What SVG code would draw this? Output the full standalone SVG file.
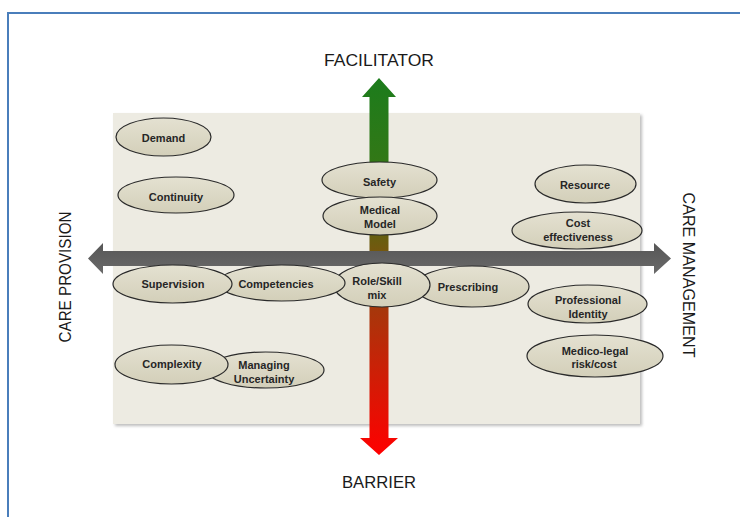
<svg xmlns="http://www.w3.org/2000/svg" width="740" height="517" viewBox="0 0 740 517">
  <defs>
    <linearGradient id="vgrad" gradientUnits="userSpaceOnUse" x1="0" y1="78" x2="0" y2="455">
      <stop offset="0" stop-color="#1c7c1c"/>
      <stop offset="0.3" stop-color="#3a7614"/>
      <stop offset="0.48" stop-color="#7c530e"/>
      <stop offset="0.62" stop-color="#a8360b"/>
      <stop offset="1" stop-color="#ff0000"/>
    </linearGradient>
    <linearGradient id="nodefill" x1="0" y1="0" x2="0" y2="1">
      <stop offset="0" stop-color="#e4e1d1"/>
      <stop offset="1" stop-color="#d3cfb9"/>
    </linearGradient>
    <linearGradient id="hgrad" x1="0" y1="0" x2="0" y2="1">
      <stop offset="0" stop-color="#565656"/>
      <stop offset="1" stop-color="#6a6a6a"/>
    </linearGradient>
    <filter id="soft" x="-10%" y="-10%" width="120%" height="130%">
      <feGaussianBlur stdDeviation="1.5"/>
    </filter>
  </defs>
  <style>
    .node ellipse { fill: url(#nodefill); stroke: #2a2a2a; stroke-width: 1.2; }
    .node text { font-family: "Liberation Sans", Arial, sans-serif; font-weight: bold; font-size: 11px; fill: #262626; text-anchor: middle; }
    .axis { font-family: "Liberation Sans", Arial, sans-serif; font-size: 16px; fill: #1a1a1a; text-anchor: middle; }
  </style>

  <!-- page frame -->
  <rect x="0" y="0" width="740" height="517" fill="#ffffff"/>
  <rect x="8" y="13" width="760" height="540" fill="none" stroke="#4a7ebb" stroke-width="2"/>

  <!-- quadrant panel -->
  <rect x="115" y="115" width="527" height="311" fill="#bdbdbd" filter="url(#soft)"/>
  <rect x="113" y="113" width="527" height="311" fill="#edebe2"/>

  <!-- axes -->
  <g id="connectors">
    <polygon id="axis-vertical" fill="url(#vgrad)"
      points="379,78 396,97 388.5,97 388.5,438 398,438 379,455 360,438 369.5,438 369.5,97 362,97"/>
    <polygon id="axis-horizontal" fill="url(#hgrad)"
      points="88,258.5 103,243 103,251 654,251 654,243 671,258.5 654,274 654,266 103,266 103,274"/>
  </g>

  <!-- axis labels -->
  <text class="axis" x="379" y="66" textLength="110" lengthAdjust="spacingAndGlyphs">FACILITATOR</text>
  <text class="axis" x="379" y="488" textLength="74" lengthAdjust="spacingAndGlyphs">BARRIER</text>
  <text class="axis" transform="translate(71,277) rotate(-90)" x="0" y="0" textLength="131" lengthAdjust="spacingAndGlyphs">CARE PROVISION</text>
  <text class="axis" transform="translate(683,275) rotate(90)" x="0" y="0" textLength="165" lengthAdjust="spacingAndGlyphs">CARE MANAGEMENT</text>

  <!-- factor nodes -->
  <g id="node-demand" class="node">
    <ellipse cx="163.5" cy="137" rx="47.5" ry="19"/>
    <text x="163.5" y="142">Demand</text>
  </g>
  <g id="node-continuity" class="node">
    <ellipse cx="176" cy="195" rx="58" ry="18"/>
    <text x="176" y="201">Continuity</text>
  </g>
  <g id="node-safety" class="node">
    <ellipse cx="379.5" cy="180" rx="57.5" ry="18"/>
    <text x="379.5" y="186">Safety</text>
  </g>
  <g id="node-medical-model" class="node">
    <ellipse cx="380" cy="216" rx="57" ry="19"/>
    <text x="380" y="214">Medical</text>
    <text x="380" y="228">Model</text>
  </g>
  <g id="node-resource" class="node">
    <ellipse cx="585.5" cy="184" rx="50.5" ry="19"/>
    <text x="585" y="189">Resource</text>
  </g>
  <g id="node-cost-effectiveness" class="node">
    <ellipse cx="577" cy="230.5" rx="65" ry="18.5"/>
    <text x="578" y="227">Cost</text>
    <text x="578" y="241">effectiveness</text>
  </g>
  <g id="node-prescribing" class="node">
    <ellipse cx="472" cy="286.5" rx="57" ry="20.5"/>
    <text x="468" y="291">Prescribing</text>
  </g>
  <g id="node-role-skill-mix" class="node">
    <ellipse cx="382" cy="285" rx="48" ry="22"/>
    <text x="377" y="285">Role/Skill</text>
    <text x="377" y="299">mix</text>
  </g>
  <g id="node-competencies" class="node">
    <ellipse cx="281.5" cy="283" rx="63.5" ry="18"/>
    <text x="276" y="288">Competencies</text>
  </g>
  <g id="node-supervision" class="node">
    <ellipse cx="172.5" cy="284" rx="59.5" ry="19"/>
    <text x="173" y="288">Supervision</text>
  </g>
  <g id="node-professional-identity" class="node">
    <ellipse cx="587.5" cy="304" rx="59.5" ry="19"/>
    <text x="588" y="304">Professional</text>
    <text x="588" y="318">Identity</text>
  </g>
  <g id="node-managing-uncertainty" class="node">
    <ellipse cx="265.5" cy="370" rx="58.5" ry="18"/>
    <text x="264" y="369">Managing</text>
    <text x="264" y="383">Uncertainty</text>
  </g>
  <g id="node-complexity" class="node">
    <ellipse cx="171.5" cy="364.5" rx="56.5" ry="19.5"/>
    <text x="172" y="368">Complexity</text>
  </g>
  <g id="node-medico-legal" class="node">
    <ellipse cx="595" cy="356" rx="68" ry="21"/>
    <text x="595" y="355">Medico-legal</text>
    <text x="594" y="368">risk/cost</text>
  </g>
</svg>
